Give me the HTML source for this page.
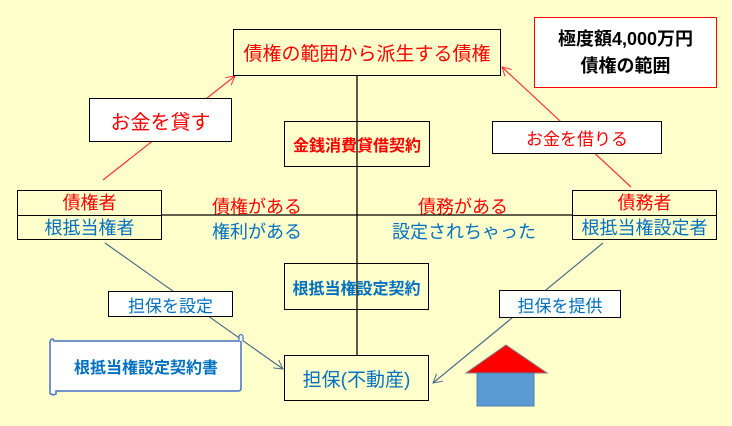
<!DOCTYPE html>
<html><head><meta charset="utf-8"><style>
body{margin:0;width:732px;height:426px;background:#FFFFCC;position:relative;overflow:hidden;font-family:"Liberation Sans","Noto Sans CJK JP",sans-serif}
.b{position:absolute;box-sizing:border-box;border:1.5px solid #000;display:flex;align-items:center;justify-content:center;white-space:nowrap}
.r{color:#FF0000}.bl{color:#0070C0}.w{background:#fff}
.t{position:absolute;white-space:nowrap;font-size:18px}
</style></head><body>
<svg width="732" height="426" style="position:absolute;left:0;top:0">
<defs>
<marker id="ar" markerWidth="10" markerHeight="10" refX="9" refY="5" orient="auto" markerUnits="userSpaceOnUse"><path d="M0,0 L9,5 L0,10" fill="none" stroke="#FF3333" stroke-width="1"/></marker>
<marker id="ag" markerWidth="10" markerHeight="10" refX="9" refY="5" orient="auto" markerUnits="userSpaceOnUse"><path d="M0,0 L9,5 L0,10" fill="none" stroke="#4A6A8A" stroke-width="1"/></marker>
</defs>
<line x1="357" y1="75" x2="357" y2="355" stroke="#000" stroke-width="1.3"/>
<line x1="161" y1="215" x2="573" y2="215" stroke="#000" stroke-width="1.3"/>
<line x1="103" y1="180" x2="235" y2="76" stroke="#FF3333" stroke-width="1.2" marker-end="url(#ar)"/>
<line x1="631" y1="187" x2="502" y2="67" stroke="#FF3333" stroke-width="1.2" marker-end="url(#ar)"/>
<line x1="105" y1="243" x2="283" y2="369" stroke="#4A6A8A" stroke-width="1.2" marker-end="url(#ag)"/>
<line x1="603" y1="243" x2="433" y2="383" stroke="#4A6A8A" stroke-width="1.2" marker-end="url(#ag)"/>
<path d="M54,341 L241,341 L241,388 Q241,391 238,391 L56,391 L56,394 Q52,396 50,393 L50,343 Q50,339 53,339 Z" fill="#fff" stroke="#4472C4" stroke-width="1.5"/>
<path d="M239,341 L239,336 Q241,333 243,336 L243,341" fill="#fff" stroke="#4472C4" stroke-width="1.2"/>
<polygon points="506,345 547,373 466,373" fill="#FF0000" stroke="#7F7F7F" stroke-width="1"/>
<rect x="477" y="373" width="57" height="33" fill="#5B9BD5" stroke="#4A7FB0" stroke-width="1"/>
</svg>
<div class="b r" style="left:233px;top:29px;width:268px;height:47px;font-size:19px">債権の範囲から派生する債権</div>
<div class="b w" style="left:534px;top:17px;width:183px;height:71px;border-color:#FF0000;font-size:18px;font-weight:bold;line-height:27px;text-align:center;flex-direction:column">極度額4,000万円<br>債権の範囲</div>
<div class="b w r" style="left:89px;top:98px;width:143px;height:44px;font-size:20px">お金を貸す</div>
<div class="b r" style="left:284px;top:121px;width:146px;height:46px;font-size:16px;font-weight:bold">金銭消費貸借契約</div>
<div class="b w r" style="left:492px;top:121px;width:170px;height:33px;font-size:17px">お金を借りる</div>
<div class="b" style="left:17px;top:190px;width:145px;height:50px;display:block;font-size:18px;text-align:center">
<div class="r" style="height:24px;line-height:25px;border-bottom:1.5px solid #000">債権者</div><div class="bl" style="line-height:24px">根抵当権者</div></div>
<div class="b" style="left:572px;top:190px;width:145px;height:50px;display:block;font-size:18px;text-align:center">
<div class="r" style="height:24px;line-height:25px;border-bottom:1.5px solid #000">債務者</div><div class="bl" style="line-height:24px">根抵当権設定者</div></div>
<div class="t r" style="left:212px;top:193px">債権がある</div>
<div class="t bl" style="left:212px;top:218px">権利がある</div>
<div class="t r" style="left:418px;top:193px">債務がある</div>
<div class="t bl" style="left:392px;top:218px">設定されちゃった</div>
<div class="b bl" style="left:284px;top:263px;width:145px;height:47px;font-size:16px;font-weight:bold">根抵当権設定契約</div>
<div class="b w bl" style="left:108px;top:291px;width:125px;height:26px;font-size:17px">担保を設定</div>
<div class="b w bl" style="left:499px;top:290px;width:122px;height:28px;font-size:17px">担保を提供</div>
<div class="b bl" style="left:284px;top:355px;width:145px;height:46px;font-size:19px">担保(不動産)</div>
<div class="t bl" style="left:74px;top:354px;font-size:16px;font-weight:bold">根抵当権設定契約書</div>
</body></html>
